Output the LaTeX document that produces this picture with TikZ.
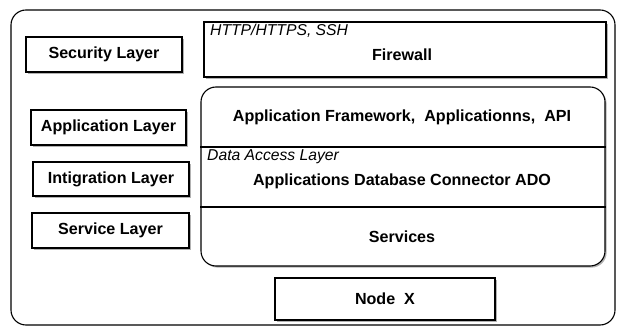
\documentclass[tikz,border=0pt]{standalone}
\usepackage{fontspec}
\setmainfont{Liberation Sans}
\usetikzlibrary{positioning,shadows,calc}

\tikzset{
  box/.style={draw, line width=1.1pt, fill=white, inner sep=0pt,
    drop shadow={shadow xshift=1.6pt, shadow yshift=-1.6pt, fill=black, opacity=0.3}},
  layer/.style={box, minimum width=156pt, minimum height=35pt, font=\txt\bfseries},
  note/.style={inner sep=0pt, anchor=west, font=\notetxt\itshape},
  title/.style={inner sep=0pt, font=\txt\bfseries},
}
\newcommand{\txt}{\fontsize{16.1}{19}\selectfont}
\newcommand{\notetxt}{\fontsize{15.7}{19}\selectfont}

\begin{document}
\begin{tikzpicture}[x=1pt, y=-1pt]
    \useasboundingbox (0,0) rectangle (621,328);

    % outer frame
    \node[draw, line width=1.1pt, rounded corners=15pt, minimum width=604pt, minimum height=315pt] (frame) at (313,167.5) {};

    % layer names on the left
    \node[layer]                      (security)    at (104,54.5)    {Security Layer};
    \node[layer, minimum width=155pt] (application) at (108.5,127.5) {Application Layer};
    \node[layer, minimum height=34pt] (integration) at (111,179)     {Intigration Layer};
    \node[layer, minimum width=157pt] (service)     at (110.5,230.5) {Service Layer};

    % firewall
    \node[box, minimum width=402pt, minimum height=55pt] (firewall) at (405,49.5) {};
    \node[note]  (protocols) at (210,31)  {HTTP/HTTPS, SSH};
    \node[title] (fwtitle)   at (402,55)  {Firewall};

    % application stack
    \node[box, rounded corners=15pt, minimum width=404pt, minimum height=179pt] (stack) at (403,176.5) {};
    \draw[line width=1.1pt] (stack.west |- 0,147) -- (stack.east |- 0,147);
    \draw[line width=1.1pt] (stack.west |- 0,207) -- (stack.east |- 0,207);
    \node[title] (framework) at (402,117) {Application Framework,\ \ Applicationns,\ \ API};
    \node[note]  (dal)       at (207,157) {Data Access Layer};
    \node[title] (ado)       at (402,181) {Applications Database Connector ADO};
    \node[title] (services)  at (402,237) {Services};

    % node
    \node[box, minimum width=220pt, minimum height=42pt, font=\txt\bfseries] (nodex) at (385,299) {Node\ \ X};
\end{tikzpicture}
\end{document}
